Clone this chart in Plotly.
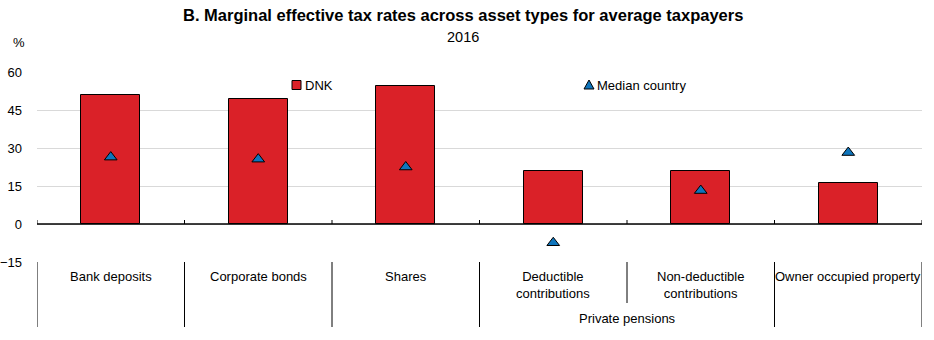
import plotly.graph_objects as go

categories = ["Bank deposits", "Corporate bonds", "Shares",
              "Deductible<br>contributions", "Non-deductible<br>contributions",
              "Owner occupied property"]
dnk = [50.9, 49.4, 54.6, 21.1, 21.1, 16.2]
median = [26.4, 25.6, 22.5, -7.4, 13.2, 28.2]
yticks = [-15, 0, 15, 30, 45, 60]
group_label = "Private pensions"
title = "B. Marginal effective tax rates across asset types for average taxpayers"
subtitle = "2016"
series_names = ["DNK", "Median country"]

RED = "#DA2128"
BLUE = "#0F75BC"

W, H = 934, 340
L, R, T, B = 37, 12, 72, 78
PH = H - T - B
FONT = "Liberation Sans, Arial, sans-serif"

def py(y):  # pixel y from top -> paper coord
    return (H - B - y) / PH

def px(x):
    return (x - L) / (W - L - R)

x = list(range(len(categories)))

fig = go.Figure()
fig.add_trace(go.Bar(x=x, y=dnk, name=series_names[0], width=0.4,
                     marker=dict(color=RED, line=dict(color="black", width=1))))
fig.add_trace(go.Scatter(x=x, y=median, name=series_names[1], mode="markers",
                         marker=dict(symbol="triangle-up", size=11, color=BLUE,
                                     line=dict(color="black", width=1))))

shapes = []
n = len(categories)
# small ticks on zero line
for i in range(n + 1):
    shapes.append(dict(type="line", xref="x", yref="y", x0=i - 0.5, x1=i - 0.5,
                       ysizemode="pixel", yanchor=0, y0=0, y1=4,
                       line=dict(color="black", width=1)))
# zero line
shapes.append(dict(type="line", xref="paper", yref="y", x0=0, x1=1, y0=0, y1=0,
                   line=dict(color="black", width=1.5)))
# separators under plot
for i in range(n + 1):
    bottom = 303 if i == 4 else 327
    shapes.append(dict(type="line", xref="x", yref="paper", x0=i - 0.5, x1=i - 0.5,
                       y0=0, y1=py(bottom), line=dict(color="black", width=1)))

# manual legend symbols
leg_y = py(85)
shapes.append(dict(type="rect", xref="paper", yref="paper",
                   xsizemode="pixel", ysizemode="pixel",
                   xanchor=px(296.5), yanchor=leg_y,
                   x0=-4.5, x1=4.5, y0=-4.5, y1=4.5,
                   fillcolor=RED, line=dict(color="black", width=1)))
shapes.append(dict(type="path", xref="paper", yref="paper",
                   xsizemode="pixel", ysizemode="pixel",
                   xanchor=px(589), yanchor=leg_y,
                   path="M -5 -4 L 5 -4 L 0 5 Z",
                   fillcolor=BLUE, line=dict(color="black", width=1)))

annotations = []
for i, c in enumerate(categories):
    annotations.append(dict(x=i, y=py(267), xref="x", yref="paper", text=c,
                            showarrow=False, yanchor="top",
                            font=dict(size=13, color="black", family=FONT)))
annotations.append(dict(x=3.5, y=py(318), xref="x", yref="paper", text=group_label,
                        showarrow=False, yanchor="middle",
                        font=dict(size=13, color="black", family=FONT)))
annotations.append(dict(x=px(303), y=leg_y, xref="paper", yref="paper",
                        text=series_names[0], showarrow=False,
                        xanchor="left", yanchor="middle",
                        font=dict(size=13, color="black", family=FONT)))
annotations.append(dict(x=px(595), y=leg_y, xref="paper", yref="paper",
                        text=series_names[1], showarrow=False,
                        xanchor="left", yanchor="middle",
                        font=dict(size=13, color="black", family=FONT)))
annotations.append(dict(x=px(463), y=py(15), xref="paper", yref="paper",
                        text="<b>" + title + "</b>", showarrow=False,
                        xanchor="center", yanchor="middle",
                        font=dict(size=16.5, color="black", family=FONT)))
annotations.append(dict(x=px(463), y=py(37), xref="paper", yref="paper",
                        text=subtitle, showarrow=False,
                        xanchor="center", yanchor="middle",
                        font=dict(size=14.5, color="black", family=FONT)))
annotations.append(dict(x=px(19), y=py(43), xref="paper", yref="paper",
                        text="%", showarrow=False,
                        xanchor="center", yanchor="middle",
                        font=dict(size=13, color="black", family=FONT)))

fig.update_layout(
    width=W, height=H,
    margin=dict(l=L, r=R, t=T, b=B),
    paper_bgcolor="white", plot_bgcolor="white",
    font=dict(family=FONT, size=13, color="black"),
    showlegend=False,
    xaxis=dict(range=[-0.5, n - 0.5], showticklabels=False, showgrid=False,
               zeroline=False, showline=False, ticks="", automargin=False),
    yaxis=dict(range=[-15, 60], tickvals=yticks, showgrid=True, gridcolor="#D9D9D9",
               gridwidth=1, zeroline=False, showline=False, ticks="",
               ticklabelstandoff=14, tickfont=dict(size=13), automargin=False),
    shapes=shapes, annotations=annotations,
    bargap=0,
)

fig.write_html("out.html")
